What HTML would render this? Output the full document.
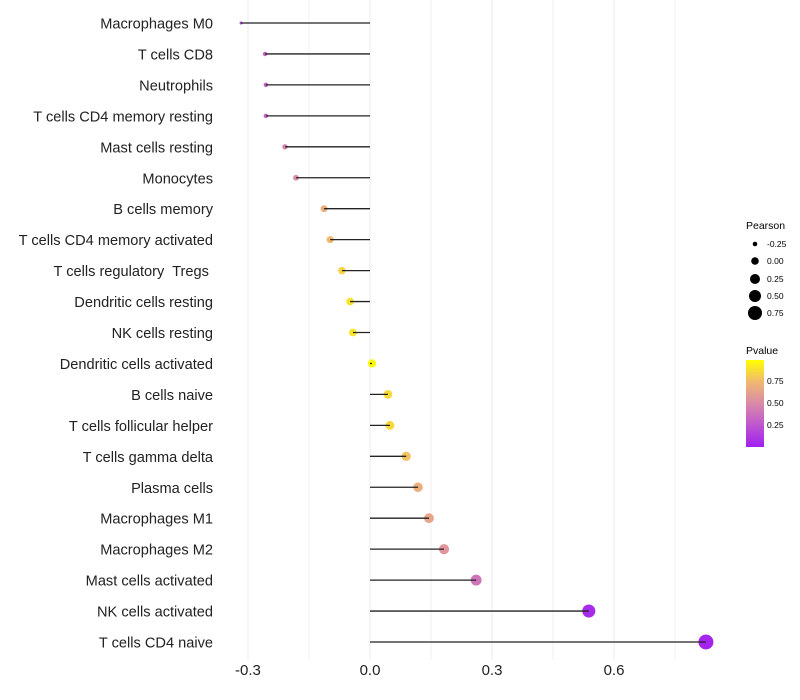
<!DOCTYPE html>
<html><head><meta charset="utf-8"><style>
body{margin:0;background:#fff;font-family:"Liberation Sans",sans-serif}
svg{display:block}
text{white-space:pre}
</style></head><body>
<svg id="chart" width="800" height="700">
<defs><linearGradient id="pg" x1="0" y1="1" x2="0" y2="0">
<stop offset="0" stop-color="#A020F0"/><stop offset="0.25" stop-color="#BE55D0"/>
<stop offset="0.5" stop-color="#D98AA8"/><stop offset="0.75" stop-color="#F0B870"/>
<stop offset="1" stop-color="#FFFF00"/></linearGradient></defs>
<g id="grid"></g><g id="marks"></g><g id="labels"></g>
<g font-size="10">
<text x="746" y="229" font-size="10.5">Pearson</text>
<circle cx="755" cy="244" r="2.3"/><text x="767" y="247" font-size="8.5">-0.25</text>
<circle cx="755" cy="261" r="3.8"/><text x="767" y="264" font-size="8.5">0.00</text>
<circle cx="755" cy="279" r="5"/><text x="767" y="282" font-size="8.5">0.25</text>
<circle cx="755" cy="296" r="6"/><text x="767" y="299" font-size="8.5">0.50</text>
<circle cx="755" cy="313" r="7"/><text x="767" y="316" font-size="8.5">0.75</text>
</g>
<g>
<text x="746" y="354" font-size="10.5">Pvalue</text>
<rect x="746" y="360" width="18" height="87" fill="url(#pg)"/>
<text x="767" y="384" font-size="8.5">0.75</text>
<text x="767" y="406" font-size="8.5">0.50</text>
<text x="767" y="428" font-size="8.5">0.25</text>
</g>
</svg>
<script>
const categories=["Macrophages M0","T cells CD8","Neutrophils","T cells CD4 memory resting","Mast cells resting","Monocytes","B cells memory","T cells CD4 memory activated","T cells regulatory  Tregs ","Dendritic cells resting","NK cells resting","Dendritic cells activated","B cells naive","T cells follicular helper","T cells gamma delta","Plasma cells","Macrophages M1","Macrophages M2","Mast cells activated","NK cells activated","T cells CD4 naive"];
const pearson=[-0.317,-0.258,-0.256,-0.256,-0.209,-0.182,-0.113,-0.098,-0.069,-0.049,-0.042,0.005,0.044,0.049,0.089,0.118,0.145,0.182,0.261,0.538,0.826];
const pvalue=[0.15,0.32,0.32,0.32,0.47,0.52,0.7,0.75,0.85,0.9,0.9,0.99,0.87,0.87,0.78,0.7,0.64,0.56,0.4,0.05,0.03];
const xTicks=[-0.3,0,0.3,0.6];
const xTickLabels=["-0.3","0.0","0.3","0.6"];
const NS="http://www.w3.org/2000/svg";
const X=v=>370+v*406.7;
const Y=i=>23+i*30.95;
const R=v=>Math.sqrt(Math.max(0.5,2.25+47.2*(v+0.317)));
const stops=[[0,[160,32,240]],[0.25,[190,85,208]],[0.5,[217,138,168]],[0.75,[240,184,112]],[1,[255,255,0]]];
function col(p){for(let k=1;k<stops.length;k++){if(p<=stops[k][0]){const a=stops[k-1],b=stops[k],t=(p-a[0])/(b[0]-a[0]);return "rgb("+a[1].map((c,j)=>Math.round(c+(b[1][j]-c)*t)).join(",")+")";}}return "rgb(255,255,0)";}
function mk(t,attrs,parent){const e=document.createElementNS(NS,t);for(const k in attrs)e.setAttribute(k,attrs[k]);document.getElementById(parent).appendChild(e);return e;}
[-0.15,0.15,0.45,0.75].forEach(v=>{const l=mk("line",{x1:X(v),x2:X(v),y1:0,y2:660,stroke:"#f2f2f2","stroke-width":1},"grid");

});
xTicks.forEach((v,i)=>{const l=mk("line",{x1:X(v),x2:X(v),y1:0,y2:660,stroke:"#ebebeb","stroke-width":1},"grid");


const t=mk("text",{x:X(v),y:675,"text-anchor":"middle","font-size":15,fill:"#222"},"labels");t.textContent=xTickLabels[i];

});
categories.forEach((c,i)=>{
const t=mk("text",{x:213,y:Y(i)+5.5,"text-anchor":"end","font-size":14.6,fill:"#222"},"labels");t.textContent=c;


const p=mk("circle",{cx:X(pearson[i]),cy:Y(i),r:R(pearson[i]),fill:col(pvalue[i])},"marks");


const l=mk("line",{x1:X(0),x2:X(pearson[i]),y1:Y(i),y2:Y(i),stroke:"#222","stroke-width":1.3},"marks");


});
</script>
</body></html>
